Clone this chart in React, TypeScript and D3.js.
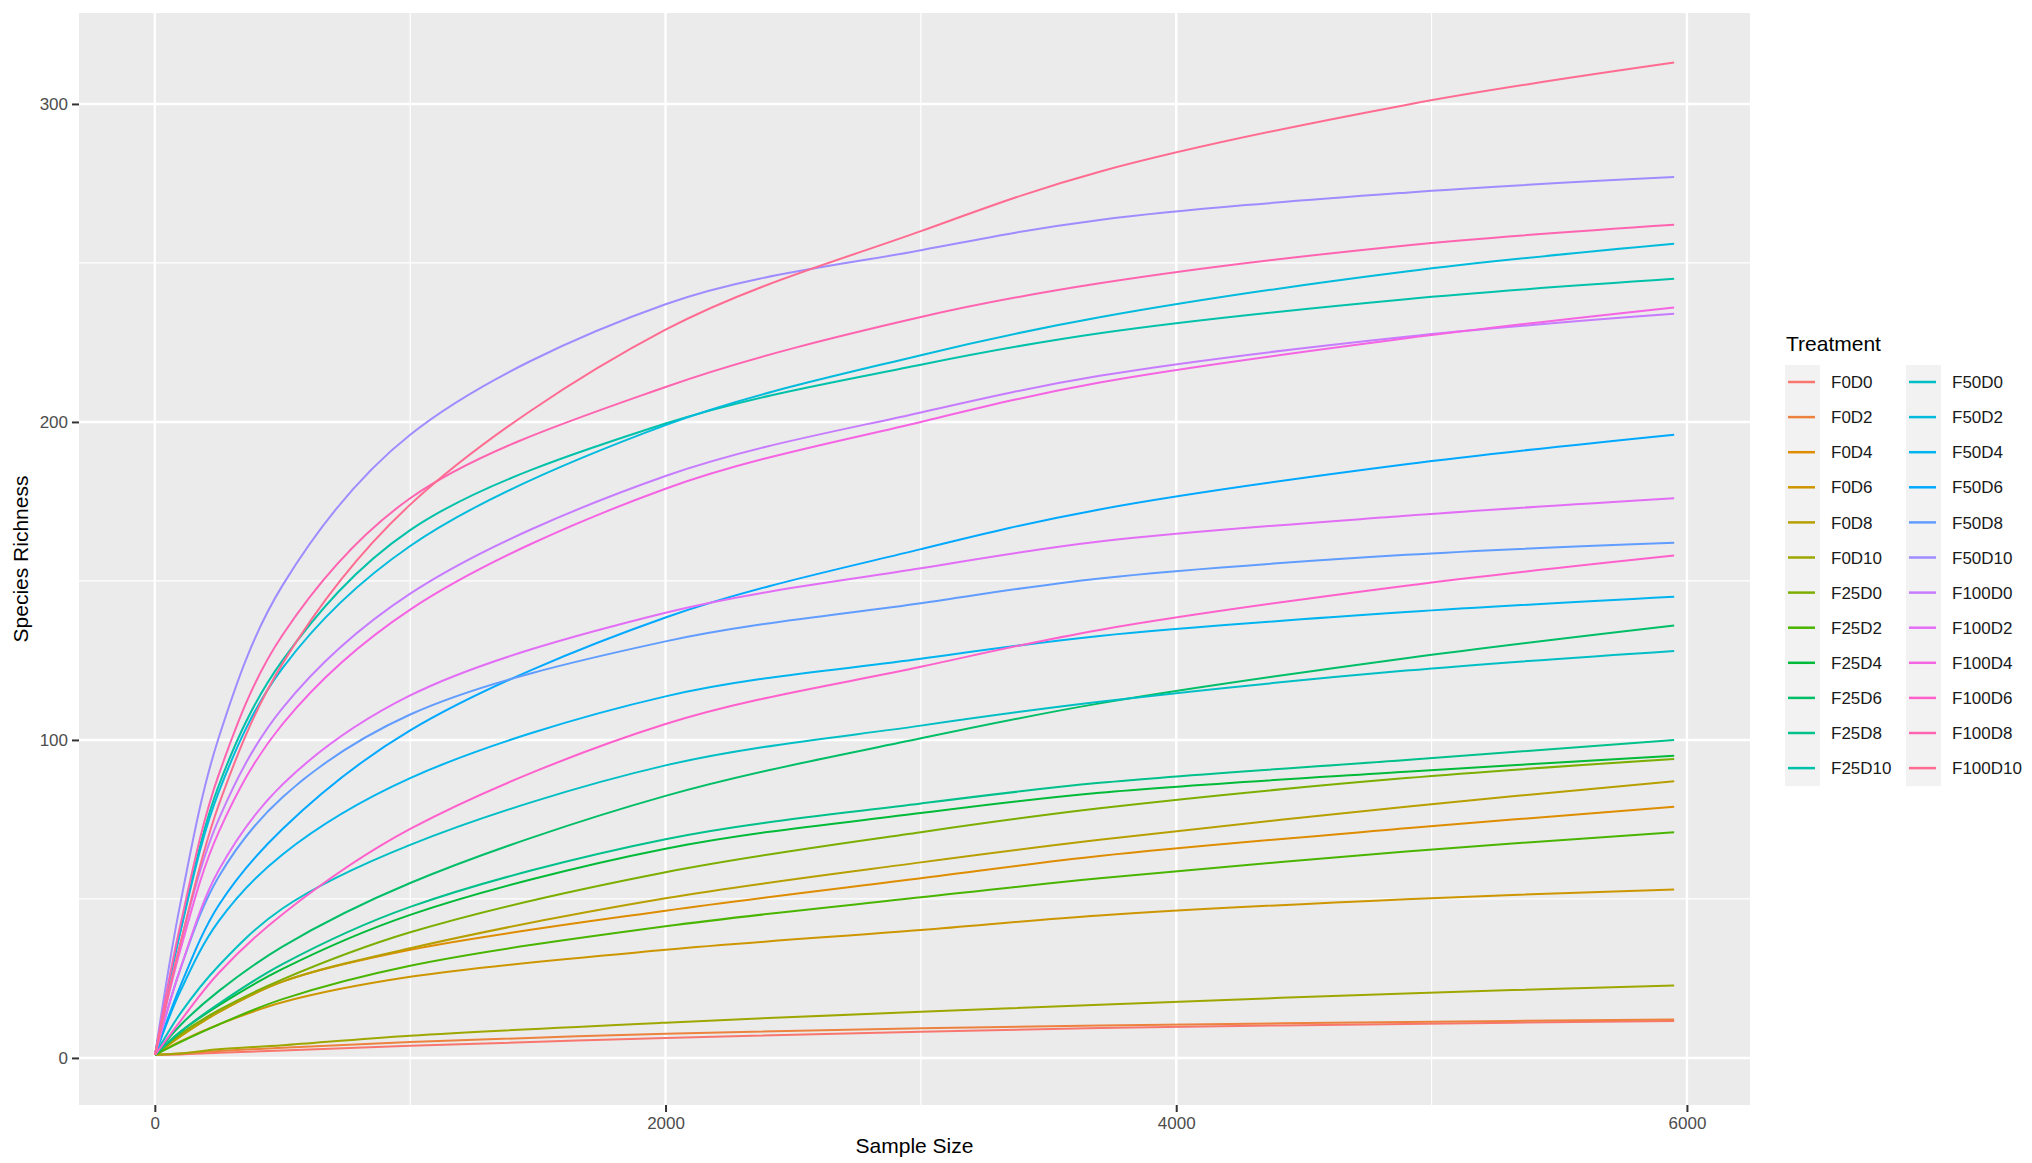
import React, { useEffect, useRef } from "react";
import * as d3 from "d3";

const sampleSizes = [1, 100, 250, 500, 1000, 2000, 3000, 3700, 4900, 5950];

const treatments = [
  "F0D0", "F0D2", "F0D4", "F0D6", "F0D8", "F0D10",
  "F25D0", "F25D2", "F25D4", "F25D6", "F25D8", "F25D10",
  "F50D0", "F50D2", "F50D4", "F50D6", "F50D8", "F50D10",
  "F100D0", "F100D2", "F100D4", "F100D6", "F100D8", "F100D10",
];

const F0D0 = [1, 1.1, 1.6, 2.3, 3.8, 6.3, 8.2, 9.4, 10.7, 11.6];
const F0D2 = [1, 1.4, 2.2, 3.2, 5, 7.6, 9.3, 10.2, 11.3, 12.1];
const F0D4 = [1, 6.8, 14.4, 24, 34, 46.3, 56.5, 63.5, 72.2, 79];
const F0D6 = [1, 5.2, 10.5, 17.5, 25.5, 34, 40.2, 44.8, 49.9, 53];
const F0D8 = [1, 6.8, 14.4, 24, 34.5, 50.2, 61.5, 68.6, 79, 87];
const F0D10 = [1, 1.4, 2.7, 4, 7, 11.1, 14.5, 16.7, 20.3, 22.8];
const F25D0 = [1, 7.5, 15, 24.7, 39.5, 58.4, 71, 78.5, 88, 94];
const F25D2 = [1, 5, 10.5, 18.5, 29, 41.4, 50.5, 56.5, 64.9, 71];
const F25D4 = [1, 8.2, 16.5, 28, 45, 65.8, 77, 83.4, 90, 95];
const F25D6 = [1, 10.3, 21, 35, 55, 82.4, 100.5, 111.5, 125.7, 136];
const F25D8 = [1, 8.2, 17, 29.5, 47.5, 68.8, 80, 86.5, 93.7, 100];
const F25D10 = [1, 40, 85.6, 125, 166, 199.5, 218, 227.9, 238.6, 245];
const F50D0 = [1, 14, 29, 47, 67, 92, 104.5, 112, 121.8, 128];
const F50D2 = [1, 39.7, 83.6, 122.6, 161, 199, 221, 232.9, 247.3, 256];
const F50D4 = [1, 21, 43, 64, 88, 113.7, 125.5, 132.7, 140.2, 145];
const F50D6 = [1, 22.6, 48, 72, 103, 138.5, 160, 172.5, 186.7, 196];
const F50D8 = [1, 28, 57, 82, 108, 131, 143, 150.8, 158.2, 162];
const F50D10 = [1, 48.6, 100.7, 148.6, 196, 237, 254, 263.5, 272.1, 277];
const F100D0 = [1, 36, 75, 110, 146, 183, 203, 214.5, 226.8, 234];
const F100D2 = [1, 28, 59, 86, 114, 140, 154, 162.4, 170.5, 176];
const F100D4 = [1, 34, 71, 105, 141, 179, 200, 212.4, 226.3, 236];
const F100D6 = [1, 11.6, 26.7, 45.2, 72, 105, 123, 134.6, 148.5, 158];
const F100D8 = [1, 41.8, 89, 133, 176, 211, 233, 243.6, 255.5, 262];
const F100D10 = [1, 36, 79.5, 124, 174, 229, 260, 278.7, 299.7, 313];

const seriesValues = [
  F0D0, F0D2, F0D4, F0D6, F0D8, F0D10,
  F25D0, F25D2, F25D4, F25D6, F25D8, F25D10,
  F50D0, F50D2, F50D4, F50D6, F50D8, F50D10,
  F100D0, F100D2, F100D4, F100D6, F100D8, F100D10,
];

const xTicks = [0, 2000, 4000, 6000];
const xMinor = [1000, 3000, 5000];
const yTicks = [0, 100, 200, 300];
const yMinor = [50, 150, 250];

// R's hcl() (polar LUV) so the colours follow ggplot's default hue palette
const hclLuv = (h: number, c: number, l: number) => {
  const hr = (h * Math.PI) / 180;
  const U = c * Math.cos(hr);
  const V = c * Math.sin(hr);
  const Xn = 95.047, Yn = 100, Zn = 108.883;
  const Y = l > 8 ? Yn * Math.pow((l + 16) / 116, 3) : (Yn * l) / 903.3;
  const d = Xn + 15 * Yn + 3 * Zn;
  const u = U / (13 * l) + (4 * Xn) / d;
  const v = V / (13 * l) + (9 * Yn) / d;
  const X = (9 * Y * u) / (4 * v);
  const Z = (Y * (12 - 3 * u - 20 * v)) / (4 * v);
  const lin = [
    3.240479 * X - 1.53715 * Y - 0.498535 * Z,
    -0.969256 * X + 1.875992 * Y + 0.041556 * Z,
    0.055648 * X - 0.204043 * Y + 1.057311 * Z,
  ].map((t) => t / 100);
  const rgb = lin.map((t) => {
    const g = t <= 0.0031308 ? 12.92 * t : 1.055 * Math.pow(t, 1 / 2.4) - 0.055;
    return Math.round(Math.max(0, Math.min(1, g)) * 255);
  });
  return d3.rgb(rgb[0], rgb[1], rgb[2]).formatHex();
};

const App: React.FC = () => {
  const svgRef = useRef<SVGSVGElement>(null);
  const width = 2032;
  const height = 1163;
  const panel = { left: 79, right: 1750, top: 13, bottom: 1105 };
  const font = "'Liberation Sans', Arial, sans-serif";

  useEffect(() => {
    const svg = d3.select(svgRef.current);
    svg.selectAll("*").remove();

    const xScale = d3.scaleLinear().domain([-297, 6247]).range([panel.left, panel.right]);
    const yScale = d3.scaleLinear().domain([-14.8, 328.6]).range([panel.bottom, panel.top]);
    const colors = d3.scaleOrdinal<string, string>()
      .domain(treatments)
      .range(treatments.map((_, i) => hclLuv(15 + i * 15, 100, 65)));

    svg.append("rect")
      .attr("width", width).attr("height", height).attr("fill", "#ffffff");

    svg.append("rect")
      .attr("x", panel.left).attr("y", panel.top)
      .attr("width", panel.right - panel.left)
      .attr("height", panel.bottom - panel.top)
      .attr("fill", "#EBEBEB");

    const grid = svg.append("g");
    grid.selectAll(".xmin").data(xMinor).enter().append("line")
      .attr("x1", (d) => xScale(d)).attr("x2", (d) => xScale(d))
      .attr("y1", panel.top).attr("y2", panel.bottom)
      .attr("stroke", "#fff").attr("stroke-width", 1.2);
    grid.selectAll(".ymin").data(yMinor).enter().append("line")
      .attr("y1", (d) => yScale(d)).attr("y2", (d) => yScale(d))
      .attr("x1", panel.left).attr("x2", panel.right)
      .attr("stroke", "#fff").attr("stroke-width", 1.2);
    grid.selectAll(".xmaj").data(xTicks).enter().append("line")
      .attr("x1", (d) => xScale(d)).attr("x2", (d) => xScale(d))
      .attr("y1", panel.top).attr("y2", panel.bottom)
      .attr("stroke", "#fff").attr("stroke-width", 2.4);
    grid.selectAll(".ymaj").data(yTicks).enter().append("line")
      .attr("y1", (d) => yScale(d)).attr("y2", (d) => yScale(d))
      .attr("x1", panel.left).attr("x2", panel.right)
      .attr("stroke", "#fff").attr("stroke-width", 2.4);

    const line = d3.line<number>()
      .x((_, i) => xScale(sampleSizes[i]))
      .y((d) => yScale(d))
      .curve(d3.curveCatmullRom.alpha(0.5));

    svg.append("g")
      .selectAll("path")
      .data(seriesValues)
      .enter()
      .append("path")
      .attr("d", (d) => line(d))
      .attr("fill", "none")
      .attr("stroke", (_, i) => colors(treatments[i]))
      .attr("stroke-width", 2);

    // axes
    const xAxis = svg.append("g")
      .attr("transform", `translate(0,${panel.bottom})`)
      .call(d3.axisBottom(xScale).tickValues(xTicks).tickFormat(d3.format("d"))
        .tickSize(7).tickPadding(5));
    const yAxis = svg.append("g")
      .attr("transform", `translate(${panel.left},0)`)
      .call(d3.axisLeft(yScale).tickValues(yTicks).tickFormat(d3.format("d"))
        .tickSize(7).tickPadding(4));
    [xAxis, yAxis].forEach((ax) => {
      ax.select(".domain").remove();
      ax.selectAll(".tick line").attr("stroke", "#333333").attr("stroke-width", 2);
      ax.selectAll(".tick text")
        .attr("fill", "#4D4D4D")
        .style("font-family", font)
        .style("font-size", "17px");
    });

    svg.append("text")
      .attr("x", (panel.left + panel.right) / 2).attr("y", 1153)
      .attr("text-anchor", "middle")
      .style("font-family", font).style("font-size", "21px")
      .attr("fill", "#000")
      .text("Sample Size");

    svg.append("text")
      .attr("transform", `translate(28,${(panel.top + panel.bottom) / 2}) rotate(-90)`)
      .attr("text-anchor", "middle")
      .style("font-family", font).style("font-size", "21px")
      .attr("fill", "#000")
      .text("Species Richness");

    // legend
    const legend = svg.append("g");
    legend.append("text")
      .attr("x", 1786).attr("y", 351)
      .style("font-family", font).style("font-size", "21px")
      .attr("fill", "#000")
      .text("Treatment");

    const rows = 12;
    const colX = [1785, 1906];
    const rowY = (i: number) => 382 + i * 35.1;
    colX.forEach((cx) => {
      legend.append("rect")
        .attr("x", cx).attr("y", 365)
        .attr("width", 35).attr("height", rows * 35.1)
        .attr("fill", "#F2F2F2");
    });

    const items = legend.selectAll(".item")
      .data(treatments)
      .enter()
      .append("g")
      .attr("transform", (_, i) =>
        `translate(${colX[Math.floor(i / rows)]},${rowY(i % rows)})`);
    items.append("line")
      .attr("x1", 3).attr("x2", 30)
      .attr("stroke", (d) => colors(d))
      .attr("stroke-width", 2.5);
    items.append("text")
      .attr("x", 46).attr("dy", "0.36em")
      .style("font-family", font).style("font-size", "17px")
      .attr("fill", "#1A1A1A")
      .text((d) => d);
  }, []);

  return (
    <svg
      ref={svgRef}
      width={width}
      height={height}
      style={{ position: "absolute", left: 0, top: 0, display: "block" }}
    ></svg>
  );
};

export default App;
